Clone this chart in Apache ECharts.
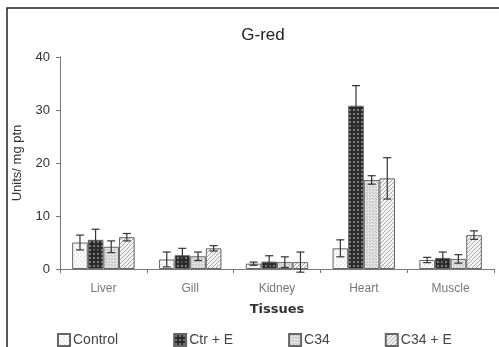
<!DOCTYPE html>
<html>
<head>
<meta charset="utf-8">
<script src="https://cdn.jsdelivr.net/npm/echarts@6/dist/echarts.min.js"></script>
<style>
  html, body { margin: 0; padding: 0; background: #fff; }
  #chart { width: 499px; height: 347px; }
</style>
</head>
<body>
<div id="chart"></div>
<script>
// Data
const categories = ['Liver', 'Gill', 'Kidney', 'Heart', 'Muscle']
const seriesNames = ['Control', 'Ctr + E', 'C34', 'C34 + E']
const control = [5.0, 1.8, 1.0, 3.9, 1.7]
const ctrE = [5.5, 2.6, 1.4, 30.8, 2.1]
const c34 = [4.2, 2.4, 1.3, 16.8, 1.9]
const c34E = [6.0, 3.9, 1.3, 17.1, 6.4]
const controlErr = [1.4, 1.4, 0.3, 1.6, 0.5]
const ctrEErr = [2.0, 1.3, 1.1, 3.8, 1.1]
const c34Err = [1.1, 0.8, 1.0, 0.8, 0.8]
const c34EErr = [0.7, 0.5, 1.9, 3.9, 0.8]
const yTicks = [0, 10, 20, 30, 40]

const values = [control, ctrE, c34, c34E]
const errors = [controlErr, ctrEErr, c34Err, c34EErr]
const BAR_FRAC = 0.18

// small canvas fill patterns
function makePattern(size, draw) {
  const c = document.createElement('canvas')
  c.width = size
  c.height = size
  const ctx = c.getContext('2d')
  draw(ctx, size)
  return { image: c, repeat: 'repeat' }
}

const patterns = [
  makePattern(4, (ctx, s) => {
    ctx.fillStyle = '#fafafa'
    ctx.fillRect(0, 0, s, s)
    ctx.fillStyle = '#d4d4d4'
    ctx.fillRect(0, 0, 1, 1)
    ctx.fillRect(2, 2, 1, 1)
  }),
  makePattern(4, (ctx, s) => {
    ctx.fillStyle = '#2a2a2a'
    ctx.fillRect(0, 0, s, s)
    ctx.fillStyle = '#7a7a7a'
    ctx.fillRect(1, 1, 2, 2)
  }),
  makePattern(3, (ctx, s) => {
    ctx.fillStyle = '#e2e2e2'
    ctx.fillRect(0, 0, s, s)
    ctx.fillStyle = '#b8b8b8'
    ctx.fillRect(0, 0, 1, 1)
    ctx.fillRect(1, 1, 1, 1)
  }),
  makePattern(4, (ctx, s) => {
    ctx.fillStyle = '#f4f4f4'
    ctx.fillRect(0, 0, s, s)
    ctx.fillStyle = '#a8a8a8'
    for (let i = 0; i < s; i++) ctx.fillRect(s - 1 - i, i, 1, 1)
  })
]

const chart = echarts.init(document.getElementById('chart'))

const barSeries = seriesNames.map((name, i) => ({
  name: name,
  type: 'bar',
  data: values[i],
  barWidth: (BAR_FRAC * 100) + '%',
  barGap: '0%',
  itemStyle: { color: patterns[i], borderColor: '#666', borderWidth: 1 },
  emphasis: { disabled: true }
}))

// error bar data: [category index, low, high, series index]
const errData = []
values.forEach((vals, s) => {
  vals.forEach((v, c) => {
    errData.push([c, v - errors[s][c], v + errors[s][c], s])
  })
})

const errSeries = {
  type: 'custom',
  name: 'err',
  z: 10,
  data: errData,
  encode: { x: 0, y: [1, 2] },
  renderItem: (params, api) => {
    const cat = api.value(0)
    const s = api.value(3)
    const band = api.size([1, 0])[0]
    const bw = band * BAR_FRAC
    const x = api.coord([cat, 0])[0] + (s - 1.5) * bw
    const lo = api.coord([cat, api.value(1)])[1]
    const hi = api.coord([cat, api.value(2)])[1]
    const cap = 4
    const style = { stroke: '#333', lineWidth: 1.2 }
    return {
      type: 'group',
      children: [
        { type: 'line', shape: { x1: x, y1: lo, x2: x, y2: hi }, style: style },
        { type: 'line', shape: { x1: x - cap, y1: hi, x2: x + cap, y2: hi }, style: style },
        { type: 'line', shape: { x1: x - cap, y1: lo, x2: x + cap, y2: lo }, style: style }
      ]
    }
  }
}

const option = {
  backgroundColor: '#fff',
  animation: false,
  title: {
    text: 'G-red',
    left: 258,
    top: 22,
    textAlign: 'center',
    textStyle: { color: '#222', fontSize: 17, fontWeight: 'normal', fontFamily: 'Liberation Sans' }
  },
  legend: {
    data: seriesNames,
    left: 52,
    top: 328,
    itemWidth: 12,
    itemHeight: 12,
    itemGap: 55,
    icon: 'rect',
    textStyle: { color: '#444', fontSize: 14, fontFamily: 'Liberation Sans', padding: [0, 0, 0, -2] }
  },
  grid: { left: 60, right: 5, top: 57, bottom: 78 },
  xAxis: {
    type: 'category',
    data: categories,
    name: 'Tissues',
    nameLocation: 'middle',
    nameGap: 34,
    nameTextStyle: { color: '#333', fontSize: 13, fontWeight: 'bold', fontFamily: 'DejaVu Sans' },
    axisLine: { lineStyle: { color: '#777', width: 1 } },
    axisTick: { show: true, length: 4, lineStyle: { color: '#777' } },
    axisLabel: { color: '#777', fontSize: 12, margin: 14, fontFamily: 'Liberation Sans' },
    splitLine: { show: false }
  },
  yAxis: {
    type: 'value',
    min: yTicks[0],
    max: yTicks[yTicks.length - 1],
    interval: 10,
    name: 'Units/ mg ptn',
    nameLocation: 'middle',
    nameGap: 36,
    nameTextStyle: { color: '#333', fontSize: 13, fontFamily: 'Liberation Sans' },
    axisLine: { show: true, lineStyle: { color: '#777', width: 1 } },
    axisTick: { show: true, length: 4, lineStyle: { color: '#777' } },
    axisLabel: { color: '#333', fontSize: 13, margin: 10, fontFamily: 'Liberation Sans' },
    splitLine: { show: false }
  },
  graphic: [
    {
      type: 'rect',
      shape: { x: 7, y: 8, width: 700, height: 700 },
      style: { fill: 'none', stroke: '#222', lineWidth: 1.5 },
      silent: true
    }
  ],
  series: barSeries.concat([errSeries])
}

chart.setOption(option)
</script>
</body>
</html>
